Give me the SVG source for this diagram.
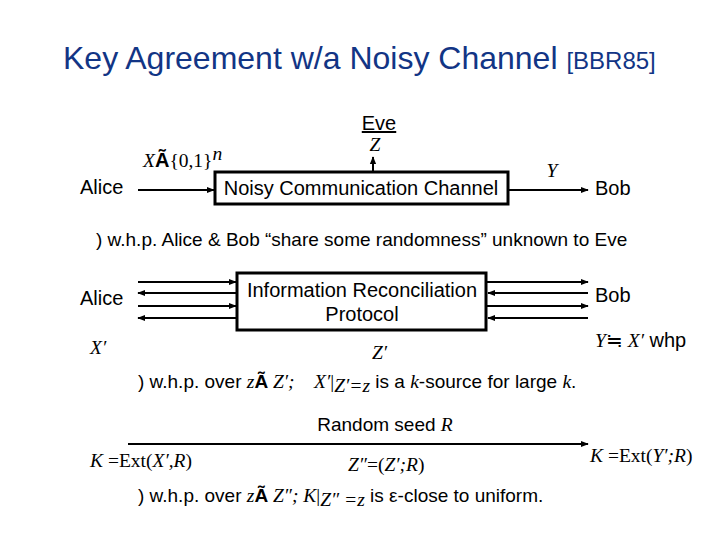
<svg xmlns="http://www.w3.org/2000/svg" width="720" height="540" viewBox="0 0 720 540">
<style>
.t{font-family:"Liberation Sans",Arial,sans-serif;font-size:20px;fill:#000}
.s{font-family:"Liberation Sans",Arial,sans-serif;font-size:19px;fill:#000}
.m{font-family:"Liberation Serif","Times New Roman",serif;font-style:italic;font-size:19.5px;fill:#000}
.r{font-family:"Liberation Serif","Times New Roman",serif;font-size:19.5px;fill:#000}
.box{fill:#fff;stroke:#000;stroke-width:3}
.ln{stroke:#000;stroke-width:2;fill:none}
.title{font-family:"Liberation Sans",Arial,sans-serif;fill:#123585}
</style>
<defs>
<marker id="ah" viewBox="0 0 10 10" refX="9" refY="5" markerWidth="4" markerHeight="4" orient="auto">
<path d="M0,1 L10,5 L0,9 z" fill="#000"/>
</marker>
</defs>
<rect width="720" height="540" fill="#fff"/>
<text class="title" x="63" y="69" font-size="32">Key Agreement w/a Noisy Channel <tspan font-size="24">[BBR85]</tspan></text>

<g id="connectors">
<line class="ln" x1="138" y1="190" x2="214" y2="190" marker-end="url(#ah)"/>
<line class="ln" x1="373" y1="172" x2="373" y2="157" marker-end="url(#ah)"/>
<line class="ln" x1="509" y1="190" x2="588" y2="190" marker-end="url(#ah)"/>
<line class="ln" x1="138" y1="282" x2="236" y2="282" marker-end="url(#ah)"/>
<line class="ln" x1="236" y1="293" x2="138" y2="293" marker-end="url(#ah)"/>
<line class="ln" x1="138" y1="306" x2="236" y2="306" marker-end="url(#ah)"/>
<line class="ln" x1="236" y1="318" x2="138" y2="318" marker-end="url(#ah)"/>
<line class="ln" x1="487" y1="282" x2="588" y2="282" marker-end="url(#ah)"/>
<line class="ln" x1="588" y1="293" x2="488" y2="293" marker-end="url(#ah)"/>
<line class="ln" x1="487" y1="306" x2="588" y2="306" marker-end="url(#ah)"/>
<line class="ln" x1="588" y1="318" x2="488" y2="318" marker-end="url(#ah)"/>
<line class="ln" x1="128" y1="444" x2="588" y2="444" marker-end="url(#ah)"/>
</g>

<g id="alice1"><text class="t" x="80" y="194">Alice</text></g>
<g id="xlabel"><text x="143" y="167"><tspan class="m">X</tspan><tspan class="t" font-weight="bold" font-size="18">Ã</tspan><tspan class="r">{0,1}</tspan><tspan class="m" font-size="13" dy="-7">n</tspan></text></g>
<g id="channel">
<rect class="box" x="215" y="172" width="293" height="32"/>
<text class="t" x="361" y="195" text-anchor="middle">Noisy Communication Channel</text>
</g>
<g id="eve">
<text class="t" x="379" y="130" text-anchor="middle" text-decoration="underline">Eve</text>
<text class="m" x="375" y="151" text-anchor="middle" font-size="18">Z</text>
</g>
<g id="ylabel"><text class="m" x="552" y="177" text-anchor="middle">Y</text></g>
<g id="bob1"><text class="t" x="595" y="195">Bob</text></g>

<text class="s" x="96" y="246">) w.h.p. Alice &amp; Bob “share some randomness” unknown to Eve</text>

<g id="alice2"><text class="t" x="80" y="305">Alice</text></g>
<g id="recon">
<rect class="box" x="237" y="273" width="249" height="57"/>
<text class="t" x="362" y="297" text-anchor="middle">Information Reconciliation</text>
<text class="t" x="362" y="321" text-anchor="middle">Protocol</text>
</g>
<g id="bob2"><text class="t" x="595" y="302">Bob</text></g>
<text class="m" x="90" y="354">X′</text>
<text class="m" x="372" y="359">Z′</text>
<text x="595" y="347"><tspan class="m">Y</tspan><tspan class="r">≒ </tspan><tspan class="m">X′</tspan><tspan class="t"> whp</tspan></text>

<text x="138" y="388" xml:space="preserve"><tspan class="s">) w.h.p. over </tspan><tspan class="m">z</tspan><tspan class="s" font-weight="bold" font-size="18">Ã</tspan><tspan class="m"> Z′;    X′</tspan><tspan class="r">|</tspan><tspan class="m" font-size="13" dy="4">Z′=z</tspan><tspan class="s" dy="-4"> is a </tspan><tspan class="m">k</tspan><tspan class="s">-source for large </tspan><tspan class="m">k</tspan><tspan class="s">.</tspan></text>

<text x="385" y="431" text-anchor="middle"><tspan class="s">Random seed </tspan><tspan class="m">R</tspan></text>
<text x="90" y="467"><tspan class="m">K</tspan><tspan class="r"> =Ext(</tspan><tspan class="m">X′,R</tspan><tspan class="r">)</tspan></text>
<text x="348" y="471"><tspan class="m">Z″</tspan><tspan class="r">=(</tspan><tspan class="m">Z′;R</tspan><tspan class="r">)</tspan></text>
<text x="590" y="462"><tspan class="m">K</tspan><tspan class="r"> =Ext(</tspan><tspan class="m">Y′;R</tspan><tspan class="r">)</tspan></text>

<text x="138" y="502" xml:space="preserve"><tspan class="s">) w.h.p. over </tspan><tspan class="m">z</tspan><tspan class="s" font-weight="bold" font-size="18">Ã</tspan><tspan class="m"> Z″; K</tspan><tspan class="r">|</tspan><tspan class="m" font-size="13" dy="4">Z″ =z</tspan><tspan class="s" dy="-4"> is ε-close to uniform.</tspan></text>
</svg>
